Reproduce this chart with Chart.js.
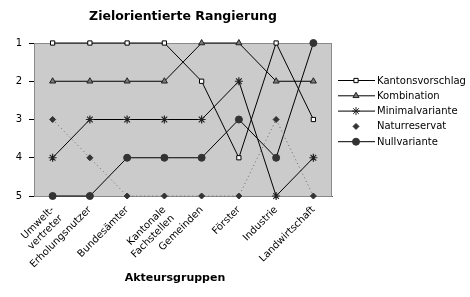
<!DOCTYPE html>
<html>
<head>
<meta charset="utf-8">
<script src="https://cdn.jsdelivr.net/npm/chart.js@4/dist/chart.umd.min.js"></script>
<style>
  html, body { margin: 0; padding: 0; background: #fff; }
  #wrap { width: 470px; height: 297px; position: relative; }
</style>
</head>
<body>
<div id="wrap"><canvas id="rankChart" width="470" height="297"></canvas></div>
<script>
const chartTitle = "Zielorientierte Rangierung";
const axisTitle = "Akteursgruppen";
const groups = [["Umwelt-", "vertreter"], "Erholungsnutzer", "Bundesämter", ["Kantonale", "Fachstellen"], "Gemeinden", "Förster", "Industrie", "Landwirtschaft"];
const rankTicks = [1, 2, 3, 4, 5];

const kantonsvorschlag = [1, 1, 1, 1, 2, 4, 1, 3];
const kombination      = [2, 2, 2, 2, 1, 1, 2, 2];
const minimalvariante  = [4, 3, 3, 3, 3, 2, 5, 4];
const naturreservat    = [3, 4, 5, 5, 5, 5, 3, 5];
const nullvariante     = [5, 5, 4, 4, 4, 3, 4, 1];

Chart.defaults.font.family = "'DejaVu Sans', Verdana, sans-serif";
Chart.defaults.color = "#000";

// plot background, title, axis title and the legend drawn by hand
const decor = {
    id: "decor",
    beforeDatasetsDraw(chart) {
        const { ctx, chartArea: a } = chart;
        ctx.save();
        ctx.fillStyle = "#cbcbcb";
        ctx.fillRect(a.left, a.top, a.right - a.left, a.bottom - a.top);
        ctx.strokeStyle = "#8a8a8a";
        ctx.lineWidth = 1;
        ctx.strokeRect(a.left + 0.5, a.top + 0.5, a.right - a.left - 1, a.bottom - a.top);
        ctx.restore();
    },
    afterDraw(chart) {
        const { ctx, chartArea: a } = chart;
        ctx.save();
        ctx.fillStyle = "#000";
        ctx.textAlign = "center";
        ctx.textBaseline = "middle";
        ctx.font = "bold 12.5px 'DejaVu Sans'";
        ctx.fillText(chartTitle, (a.left + a.right) / 2, 17);
        ctx.font = "bold 11px 'DejaVu Sans'";
        ctx.fillText(axisTitle, 175, 278);

        ctx.textAlign = "left";
        ctx.font = "10px 'DejaVu Sans'";
        chart.data.datasets.forEach((ds, i) => {
            const y = 80.5 + i * 15.3;
            if (!ds.borderDash) {
                ctx.strokeStyle = "#000";
                ctx.lineWidth = 1;
                ctx.beginPath();
                ctx.moveTo(338, y);
                ctx.lineTo(375, y);
                ctx.stroke();
            }
            ctx.fillStyle = ds.pointBackgroundColor;
            ctx.strokeStyle = ds.pointBorderColor;
            ctx.lineWidth = 1;
            Chart.helpers.drawPoint(ctx, { pointStyle: ds.pointStyle, radius: ds.pointRadius, rotation: 0, borderWidth: 1 }, 356, y);
            ctx.fillStyle = "#000";
            ctx.fillText(ds.label, 377, y + 0.5);
        });
        ctx.restore();
    }
};

new Chart(document.getElementById("rankChart"), {
    type: "line",
    data: {
        labels: groups,
        datasets: [
            { label: "Kantonsvorschlag", data: kantonsvorschlag, borderColor: "#000", borderWidth: 1,
              pointStyle: "rect", pointRadius: 3, pointBackgroundColor: "#fff", pointBorderColor: "#000", pointBorderWidth: 1 },
            { label: "Kombination", data: kombination, borderColor: "#000", borderWidth: 1,
              pointStyle: "triangle", pointRadius: 3.5, pointBackgroundColor: "#7a7a7a", pointBorderColor: "#222", pointBorderWidth: 1 },
            { label: "Minimalvariante", data: minimalvariante, borderColor: "#000", borderWidth: 1,
              pointStyle: "star", pointRadius: 4, pointBackgroundColor: "#222", pointBorderColor: "#222", pointBorderWidth: 1.2 },
            { label: "Naturreservat", data: naturreservat, borderColor: "#6a6a6a", borderWidth: 1, borderDash: [1, 3],
              pointStyle: "rectRot", pointRadius: 3, pointBackgroundColor: "#333", pointBorderColor: "#333", pointBorderWidth: 1 },
            { label: "Nullvariante", data: nullvariante, borderColor: "#000", borderWidth: 1,
              pointStyle: "circle", pointRadius: 3.5, pointBackgroundColor: "#333", pointBorderColor: "#333", pointBorderWidth: 1 }
        ]
    },
    options: {
        responsive: false,
        animation: false,
        layout: { padding: { top: 43, right: 138, left: 0, bottom: 0 } },
        elements: { line: { tension: 0 } },
        datasets: { line: { clip: false } },
        plugins: { legend: { display: false }, tooltip: { enabled: false } },
        scales: {
            x: {
                offset: true,
                grid: { display: false, drawOnChartArea: false },
                border: { display: true, color: "#555" },
                ticks: { maxRotation: 45, minRotation: 45, autoSkip: false, padding: 0, font: { size: 10 } },
                afterFit(scale) { scale.height = 101; }
            },
            y: {
                reverse: true,
                min: 1, max: 5,
                afterBuildTicks(scale) { scale.ticks = rankTicks.map(v => ({ value: v })); },
                grid: { drawOnChartArea: false, tickLength: 5, color: "#000" },
                border: { display: true, color: "#000" },
                ticks: { padding: 7, font: { size: 10 } },
                afterFit(scale) { scale.width = 34; }
            }
        }
    },
    plugins: [decor]
});
</script>
</body>
</html>
